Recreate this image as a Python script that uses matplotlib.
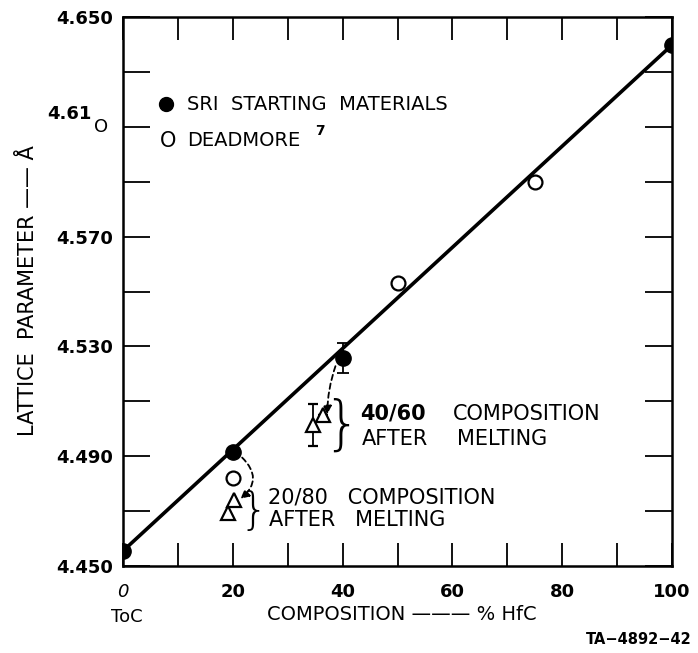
import numpy as np
import matplotlib
matplotlib.use("Agg")
import matplotlib.pyplot as plt

# SRI starting materials (solid points) and the straight line through them
sri_x = [0, 20, 40, 100]
sri_y = [4.4555, 4.4916, 4.5257, 4.6398]
sri_err = [0, 0, 0.0055, 0]
fit_x = [0, 100]
fit_y = [4.4555, 4.6398]

# Deadmore values (open circles)
dead_x = [20, 50, 75]
dead_y = [4.482, 4.553, 4.590]

# compositions after melting (triangles)
melt20_x = [20.3, 19.1]
melt20_y = [4.4742, 4.4693]
melt40_x = [36.4, 34.6]
melt40_y = [4.505, 4.5013]
melt40_err = [0, 0.0077]

x_ticks = [0, 20, 40, 60, 80, 100]
x_labels = ["0", "20", "40", "60", "80", "100"]
y_ticks = [4.450, 4.490, 4.530, 4.570, 4.650]
y_labels = ["4.450", "4.490", "4.530", "4.570", "4.650"]

fig = plt.figure(figsize=(6.98, 6.53), dpi=100)
ax = fig.add_axes([123 / 698, 87 / 653, 549 / 698, 549 / 653])
ax.set_xlim(0, 100)
ax.set_ylim(4.450, 4.650)

ax.plot(fit_x, fit_y, color="black", lw=2.6, solid_capstyle="butt", zorder=3)
ax.errorbar(sri_x, sri_y, yerr=sri_err, fmt="o", color="black", ms=11,
            elinewidth=1.3, capsize=4, capthick=1.3, zorder=4)
ax.plot(dead_x, dead_y, "o", mfc="white", mec="black", mew=1.6, ms=10, zorder=5)
ax.plot(melt20_x, melt20_y, "^", mfc="white", mec="black", mew=1.6, ms=10, zorder=5)
ax.errorbar(melt40_x, melt40_y, yerr=melt40_err, fmt="^", mfc="white", mec="black",
            mew=1.6, ms=10, ecolor="black", elinewidth=1.3, capsize=3.5, capthick=1.3,
            zorder=5)

# dashed arrows from the starting value to the melted value
arrow = dict(arrowstyle="-|>,head_length=0.5,head_width=0.25", color="black",
             lw=1.3, linestyle=(0, (3, 2)), shrinkA=0, shrinkB=0)
ax.annotate("", xy=(21.4, 4.4745), xytext=(21.7, 4.4895),
            arrowprops=dict(arrow, connectionstyle="arc3,rad=-0.55"))
ax.annotate("", xy=(37.2, 4.5052), xytext=(38.7, 4.5228),
            arrowprops=dict(arrow, connectionstyle="arc3,rad=0.08"))

# braces and notes
ax.text(23.8, 4.4700, "}", fontsize=32, va="center", ha="center",
        fontweight="light")
ax.text(26.4, 4.4750, "20/80   COMPOSITION", fontsize=15, va="center")
ax.text(26.6, 4.4666, "AFTER   MELTING", fontsize=15, va="center")
ax.text(39.9, 4.5008, "}", fontsize=42, va="center", ha="center",
        fontweight="light")
ax.text(43.2, 4.5054, "40/60", fontsize=15, fontweight="bold", va="center")
ax.text(60.1, 4.5054, "COMPOSITION", fontsize=15, va="center")
ax.text(43.5, 4.4963, "AFTER", fontsize=15, va="center")
ax.text(60.8, 4.4963, "MELTING", fontsize=15, va="center")

# key
ax.plot([7.9], [4.6183], "o", color="black", ms=10)
ax.text(11.6, 4.6183, "SRI  STARTING  MATERIALS", fontsize=14, va="center")
ax.text(8.2, 4.6050, "O", fontsize=15, ha="center", va="center")
ax.text(11.6, 4.6050, "DEADMORE", fontsize=14, va="center")
ax.text(35.0, 4.6085, "7", fontsize=10, fontweight="bold", va="center")

# axes frame and ticks
for s in ax.spines.values():
    s.set_linewidth(1.8)
ax.set_xticks(np.arange(0, 101, 10), minor=True)
ax.set_yticks(np.arange(4.45, 4.651, 0.02), minor=True)
ax.set_xticks(x_ticks)
ax.set_xticklabels(x_labels, fontsize=13, fontweight="bold")
ax.get_xticklabels()[0].set_fontstyle("italic")
ax.get_xticklabels()[0].set_fontweight("normal")
ax.set_yticks(y_ticks)
ax.set_yticklabels(y_labels, fontsize=13, fontweight="bold")
ax.tick_params(axis="x", which="both", direction="in", length=16.5, width=1.3,
               top=True, pad=12)
ax.tick_params(axis="y", which="both", direction="in", length=19.5, width=1.3,
               right=True, pad=7)

# 4.610 label with its dropped last digit
ytr = ax.get_yaxis_transform()
ax.text(-0.058, 4.6147, "4.61", transform=ytr, fontsize=13, fontweight="bold",
        ha="right", va="center")
ax.text(-0.040, 4.6100, "O", transform=ytr, fontsize=13, ha="center",
        va="center")

fig.text(127 / 698, 36 / 653, "ToC", fontsize=13, ha="center", va="center")
fig.text(402 / 698, 38 / 653, "COMPOSITION \u2014\u2014\u2014 % HfC", fontsize=14,
         ha="center", va="center")
fig.text(692 / 698, 13 / 653, "TA\u22124892\u221242", fontsize=10.5,
         fontweight="bold", ha="right", va="center")
fig.text(28 / 698, 362 / 653, "LATTICE  PARAMETER \u2014\u2014 \u00c5", fontsize=15,
         rotation=90, ha="center", va="center")

fig.savefig("out.png", dpi=100)
